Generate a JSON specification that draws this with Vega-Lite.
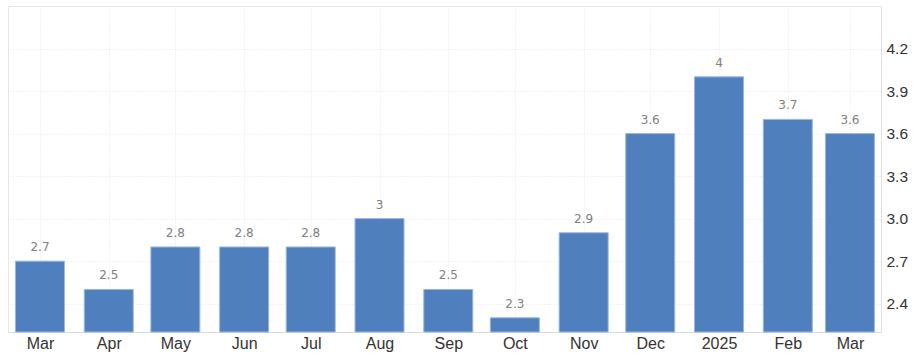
{
  "$schema": "https://vega.github.io/schema/vega-lite/v6.json",
  "autosize": "none",
  "width": 873,
  "height": 326,
  "padding": {"left": 8, "top": 6, "right": 35, "bottom": 25},
  "background": "white",
  "config": {
    "view": {"stroke": "#e6e6e6", "strokeWidth": 1},
    "font": "Liberation Sans"
  },
  "data": {
    "values": [
      {"date": "2024-03-01", "value": 2.7},
      {"date": "2024-04-01", "value": 2.5},
      {"date": "2024-05-01", "value": 2.8},
      {"date": "2024-06-01", "value": 2.8},
      {"date": "2024-07-01", "value": 2.8},
      {"date": "2024-08-01", "value": 3.0},
      {"date": "2024-09-01", "value": 2.5},
      {"date": "2024-10-01", "value": 2.3},
      {"date": "2024-11-01", "value": 2.9},
      {"date": "2024-12-01", "value": 3.6},
      {"date": "2025-01-01", "value": 4.0},
      {"date": "2025-02-01", "value": 3.7},
      {"date": "2025-03-01", "value": 3.6}
    ]
  },
  "encoding": {
    "x": {
      "field": "date",
      "type": "temporal",
      "scale": {
        "type": "utc",
        "padding": 0,
        "nice": false,
        "domain": [
          {"year": 2024, "month": 2, "date": 15, "hours": 14, "utc": true},
          {"year": 2025, "month": 3, "date": 15, "utc": true}
        ]
      },
      "axis": {
        "title": null,
        "values": [
          {"year": 2024, "month": 3, "date": 1, "utc": true},
          {"year": 2024, "month": 4, "date": 1, "utc": true},
          {"year": 2024, "month": 5, "date": 1, "utc": true},
          {"year": 2024, "month": 6, "date": 1, "utc": true},
          {"year": 2024, "month": 7, "date": 1, "utc": true},
          {"year": 2024, "month": 8, "date": 1, "utc": true},
          {"year": 2024, "month": 9, "date": 1, "utc": true},
          {"year": 2024, "month": 10, "date": 1, "utc": true},
          {"year": 2024, "month": 11, "date": 1, "utc": true},
          {"year": 2024, "month": 12, "date": 1, "utc": true},
          {"year": 2025, "month": 1, "date": 1, "utc": true},
          {"year": 2025, "month": 2, "date": 1, "utc": true},
          {"year": 2025, "month": 3, "date": 1, "utc": true}
        ],
        "labelExpr": "utcmonth(datum.value) == 0 ? utcFormat(datum.value, '%Y') : utcFormat(datum.value, '%b')",
        "labelFont": "Liberation Sans",
        "labelFontSize": 16,
        "labelColor": "#333333",
        "labelPadding": 3,
        "labelFlush": false,
        "labelOverlap": false,
        "ticks": false,
        "domainColor": "#d9d9d9",
        "domainWidth": 1,
        "grid": true,
        "gridColor": "#e6e6e6",
        "gridDash": [1, 2]
      }
    },
    "y": {
      "field": "value",
      "type": "quantitative",
      "scale": {"domain": [2.2, 4.5], "nice": false, "zero": false},
      "axis": {
        "title": null,
        "orient": "right",
        "values": [2.4, 2.7, 3.0, 3.3, 3.6, 3.9, 4.2],
        "format": ".1f",
        "labelFont": "Liberation Sans",
        "labelFontSize": 15.5,
        "labelColor": "#333333",
        "labelPadding": 5,
        "ticks": false,
        "domain": true,
        "domainColor": "#e0e0e0",
        "grid": true,
        "gridColor": "#e6e6e6",
        "gridDash": [1, 2]
      }
    }
  },
  "layer": [
    {
      "mark": {"type": "bar", "size": 49, "color": "#4f80bd", "stroke": "#9ab7dd", "strokeWidth": 1},
      "encoding": {"y2": {"datum": 2.2}}
    },
    {
      "mark": {"type": "text", "baseline": "alphabetic", "dy": -10, "fontSize": 12, "color": "#808080", "font": "DejaVu Sans"},
      "encoding": {"text": {"field": "value", "type": "quantitative", "format": "~g"}}
    }
  ]
}
